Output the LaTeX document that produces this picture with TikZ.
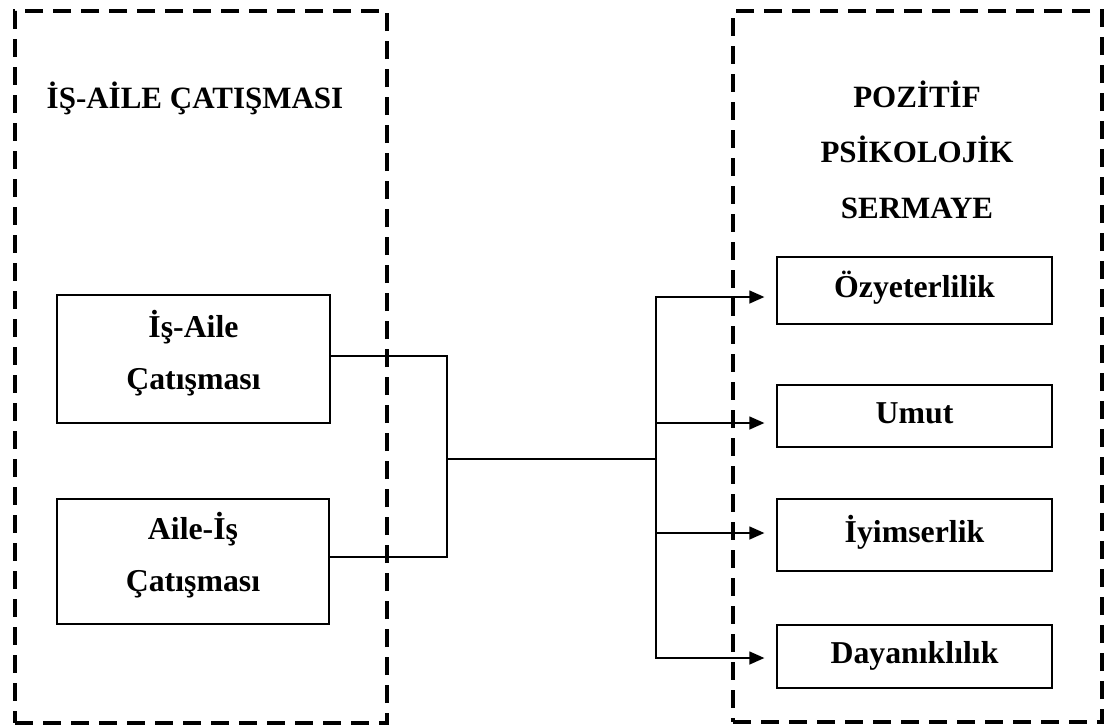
\documentclass[tikz,border=0pt]{standalone}
\usepackage{fontspec}
\setmainfont{Liberation Serif}
\usetikzlibrary{arrows.meta,calc}
\begin{document}
\begin{tikzpicture}[x=1pt,y=-1pt,
  frame/.style={draw, line width=4pt, dash pattern=on 18pt off 10pt, inner sep=0pt},
  box/.style={draw, line width=1.3pt, inner sep=0pt, align=center,
    font=\bfseries\fontsize{31.8}{52}\selectfont},
  onebox/.style={box, minimum width=275pt, text height=21pt, text depth=7pt},
  twobox/.style={box, text height=68pt, text depth=8pt},
  title/.style={font=\bfseries\fontsize{31}{55.5}\selectfont, align=center},
  conn/.style={line width=1.3pt},
  arr/.style={conn, -{Triangle[length=15pt,width=13pt]}}
]
\useasboundingbox (0,0) rectangle (1106,726);

% dashed frames
\node[frame, minimum width=372pt, minimum height=712pt] (lframe) at (201,367) {};
\node[frame, minimum width=369pt, minimum height=711pt] (rframe) at (917.5,366.5) {};

% titles
\node[title, anchor=base] (ltitle) at (195,108) {İŞ-AİLE ÇATIŞMASI};
\node[title, anchor=base] (rtitle) at (917,218) {POZİTİF\\PSİKOLOJİK\\SERMAYE};

% left boxes
\node[twobox, line width=2.3pt, minimum width=273pt, minimum height=128pt] (b1) at (193.5,359) {İş-Aile\\Çatışması};
\node[twobox, minimum width=272pt, minimum height=125pt] (b2) at (193,561.5) {Aile-İş\\Çatışması};

% right boxes
\node[onebox, minimum height=67pt] (r1) at (914.5,290.5) {Özyeterlilik};
\node[onebox, minimum height=62pt] (r2) at (914.5,416) {Umut};
\node[onebox, minimum height=72pt] (r3) at (914.5,535) {İyimserlik};
\node[onebox, minimum height=63pt] (r4) at (914.5,656.5) {Dayanıklılık};

% connectors
\coordinate (j1) at (447,459);
\coordinate (j2) at (656,459);
\draw[conn] ($(b1.east)+(0,-3)$) -| (j1);
\draw[conn] ($(b2.east)+(0,-4.5)$) -| (j1);
\draw[conn] (j1) -- (j2);
\draw[arr] (j2) |- ($(r1.west)+(-12,6.5)$);
\draw[arr] (j2) |- ($(r2.west)+(-12,7)$);
\draw[arr] (j2) |- ($(r3.west)+(-12,-2)$);
\draw[arr] (j2) |- ($(r4.west)+(-12,1.5)$);
\end{tikzpicture}
\end{document}
